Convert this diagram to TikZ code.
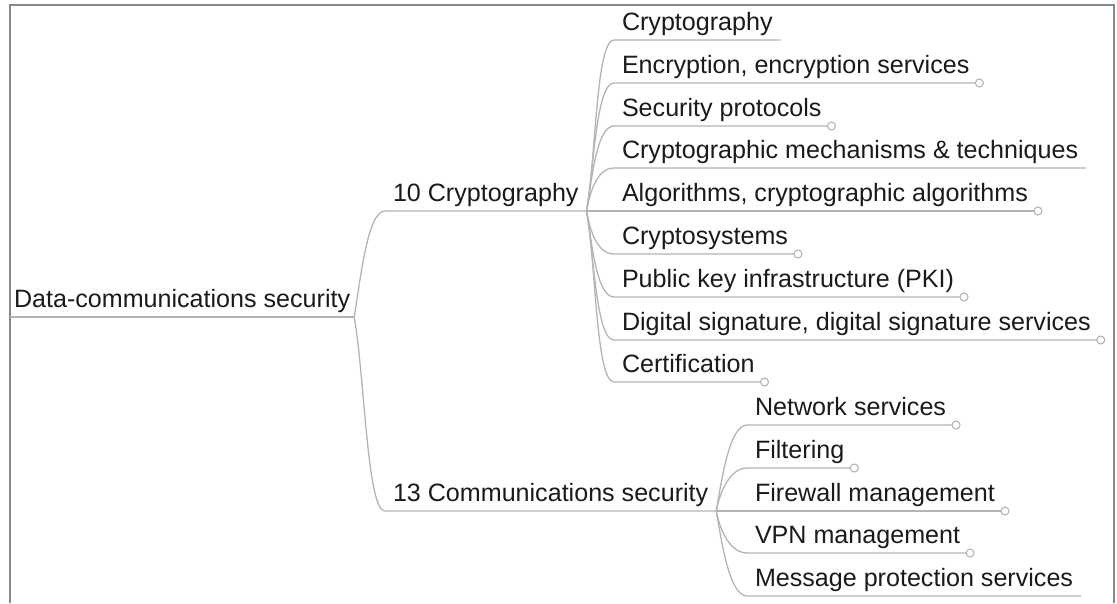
\documentclass[tikz,border=0pt]{standalone}
\usepackage{fontspec}
\setmainfont{Liberation Sans}
\usepackage{xcolor}
\usepackage{tikz}

\definecolor{framegray}{HTML}{7D8B95}
\definecolor{linegray}{HTML}{B4B4B4}
\definecolor{inkgray}{HTML}{1A1A1A}

\begin{document}
\begin{tikzpicture}[x=1pt, y=-1pt,
        topic/.style={anchor=south west, inner xsep=8pt, inner ysep=10pt, outer sep=0pt,
            text depth=0pt, text=inkgray, font=\fontsize{25.1}{28}\selectfont},
        branch/.style={draw=linegray, line width=1.3pt},
        knob/.style={draw=linegray, fill=white, line width=1.1pt},
        rise/.style={out=80, in=180, out looseness=0.8, in distance=18pt},
        fall/.style={out=-80, in=180, out looseness=0.8, in distance=18pt}]
            \useasboundingbox (0,0) rectangle (1117,603);

            % Frame
            \draw [framegray, line width=2.2pt] (10,603) -- (10,5) -- (1114,5) -- (1114,603);

            % Nodes
            \node (root) [topic, inner xsep=4pt] at (10,317) {Data-communications security};
            \node (crypto) [topic] at (385,211) {10 Cryptography};
            \node (comms) [topic] at (385,511) {13 Communications security};
            % Cryptography topics
            \node (c1) [topic] at (614,40) {Cryptography};
            \node (c2) [topic] at (614,83) {Encryption, encryption services};
            \node (c3) [topic] at (614,126) {Security protocols};
            \node (c4) [topic] at (614,168) {Cryptographic mechanisms \& techniques};
            \node (c5) [topic] at (614,211) {Algorithms, cryptographic algorithms};
            \node (c6) [topic] at (614,254) {Cryptosystems};
            \node (c7) [topic] at (614,297) {Public key infrastructure (PKI)};
            \node (c8) [topic] at (614,340) {Digital signature, digital signature services};
            \node (c9) [topic] at (614,382) {Certification};
            % Communications security topics
            \node (m1) [topic] at (747,425) {Network services};
            \node (m2) [topic] at (747,468) {Filtering};
            \node (m3) [topic] at (747,511) {Firewall management};
            \node (m4) [topic] at (747,553) {VPN management};
            \node (m5) [topic] at (747,596) {Message protection services};

            % Root branches
            \draw [branch] (root.south west) -- (root.south east);
            \draw [branch] (root.south east) to [rise] (crypto.south west) -- (crypto.south east);
            \draw [branch] (root.south east) to [fall] (comms.south west) -- (comms.south east);
            % Cryptography branches
            \draw [branch] (crypto.south east) to [rise] (c1.south west) -- (c1.south east);
            \draw [branch] (crypto.south east) to [rise] (c2.south west) -- (c2.south east);
            \draw [branch] (crypto.south east) to [rise] (c3.south west) -- (c3.south east);
            \draw [branch] (crypto.south east) to [rise] (c4.south west) -- (c4.south east);
            \draw [branch] (crypto.south east) -- (c5.south west) -- (c5.south east);
            \draw [branch] (crypto.south east) to [fall] (c6.south west) -- (c6.south east);
            \draw [branch] (crypto.south east) to [fall] (c7.south west) -- (c7.south east);
            \draw [branch] (crypto.south east) to [fall] (c8.south west) -- (c8.south east);
            \draw [branch] (crypto.south east) to [fall] (c9.south west) -- (c9.south east);
            % Communications security branches
            \draw [branch] (comms.south east) to [rise] (m1.south west) -- (m1.south east);
            \draw [branch] (comms.south east) to [rise] (m2.south west) -- (m2.south east);
            \draw [branch] (comms.south east) -- (m3.south west) -- (m3.south east);
            \draw [branch] (comms.south east) to [fall] (m4.south west) -- (m4.south east);
            \draw [branch] (comms.south east) to [fall] (m5.south west) -- (m5.south east);

            % Collapse knobs
            \draw [knob] ([xshift=2pt]c2.south east) circle (4pt);
            \draw [knob] ([xshift=2pt]c3.south east) circle (4pt);
            \draw [knob] ([xshift=2pt]c5.south east) circle (4pt);
            \draw [knob] ([xshift=2pt]c6.south east) circle (4pt);
            \draw [knob] ([xshift=2pt]c7.south east) circle (4pt);
            \draw [knob] ([xshift=2pt]c8.south east) circle (4pt);
            \draw [knob] ([xshift=2pt]c9.south east) circle (4pt);
            \draw [knob] ([xshift=2pt]m1.south east) circle (4pt);
            \draw [knob] ([xshift=2pt]m2.south east) circle (4pt);
            \draw [knob] ([xshift=2pt]m3.south east) circle (4pt);
            \draw [knob] ([xshift=2pt]m4.south east) circle (4pt);
        \end{tikzpicture}
\end{document}
